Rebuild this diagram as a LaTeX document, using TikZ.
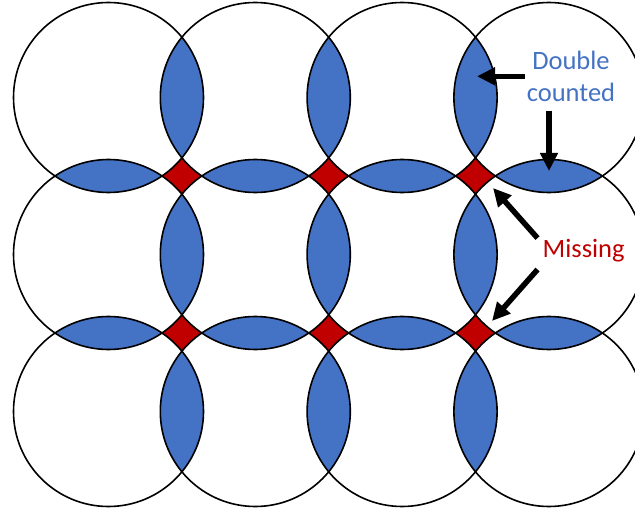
\documentclass[tikz,border=0pt]{standalone}
\usepackage{fontspec}
\setmainfont{Carlito}
\usetikzlibrary{arrows.meta, positioning}
\definecolor{lensblue}{HTML}{4472C4}
\definecolor{gapred}{HTML}{C00000}

\begin{document}
\begin{tikzpicture}[x=1pt, y=-1pt,
  ring/.style={draw=black, line width=1.6pt},
  bigarrow/.style={-{Triangle[length=18pt, width=17pt]}, line width=5.5pt},
  note/.style={font=\fontsize{26.5}{31.7}\selectfont}]
  \useasboundingbox (0,0) rectangle (635,516);
  \clip (0,0) rectangle (635,516);
  % Centres of the circles
  \foreach \i in {0,...,3}
    \foreach \j in {0,...,2}
      \coordinate (c\i\j) at (108.5+146.8*\i, 97.5+157*\j);
  % Missing: what no circle covers
  \fill[gapred] (c00) rectangle (c32);
  \foreach \i in {0,...,3}
    \foreach \j in {0,...,2}
      \fill[white] (c\i\j) circle[radius=95pt];
  % Double counted: overlap of two neighbours
  \foreach \i/\k in {0/1,1/2,2/3}
    \foreach \j in {0,1,2} {
      \begin{scope}
        \clip (c\i\j) circle[radius=95pt];
        \fill[lensblue] (c\k\j) circle[radius=95pt];
      \end{scope}
    }
  \foreach \i in {0,...,3}
    \foreach \j/\k in {0/1,1/2} {
      \begin{scope}
        \clip (c\i\j) circle[radius=95pt];
        \fill[lensblue] (c\i\k) circle[radius=95pt];
      \end{scope}
    }
  % Outlines
  \foreach \i in {0,...,3}
    \foreach \j in {0,...,2}
      \draw[ring] (c\i\j) circle[radius=95pt];
  % Labels
  \node[note, text=lensblue, align=center, inner xsep=2pt, inner ysep=9pt] (dc) at (571,76.3) {Double\\counted};
  \node[note, text=gapred, anchor=base, inner xsep=5pt, inner ysep=0pt, text height=19pt, text depth=12pt] (miss) at (583.7,257.3) {Missing};
  \coordinate (lensA) at (477,78);
  \coordinate (lensB) at (549,171);
  \coordinate (gapA) at (493,188);
  \coordinate (gapB) at (492,321);
  \draw[bigarrow] (dc.west) -- (dc.west -| lensA);
  \draw[bigarrow] (dc.south -| lensB) -- (lensB);
  \draw[bigarrow] (miss.north west) -- (gapA);
  \draw[bigarrow] (miss.south west) -- (gapB);
\end{tikzpicture}
\end{document}
